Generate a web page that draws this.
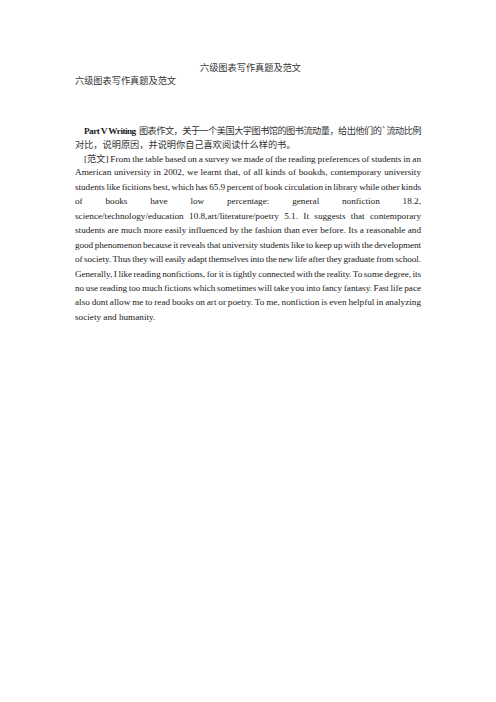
<!DOCTYPE html>
<html>
<head>
<meta charset="utf-8">
<script src="https://cdn.jsdelivr.net/npm/chart.js@4"></script>
<style>
  body { margin: 0; background: #fff; width: 496px; height: 702px; position: relative; overflow: hidden;
         font-family: "Liberation Serif", "Noto Sans CJK SC", serif; font-size: 9.2px; color: #1a1a1a; }
  .ln { position: absolute; white-space: nowrap; line-height: 12px; }
  .cjk { font-family: "Noto Sans CJK SC", sans-serif; font-size: 9.2px; color: #333; }
</style>
</head>
<body>
<div id="page"></div>
<script>
// reading preferences from the survey (percent of book circulation)
const categories = ['fictions', 'general nonfiction', 'science/technology/education', 'art/literature/poetry'];
const percents = [65.9, 18.2, 10.8, 5.1];

const pct = i => percents[i].toFixed(1);

// [text, top, left, justified, mode]
const lines = [
  ['<span class="cjk">六级图表写作真题及范文</span>', 61, 200, false],
  ['<span class="cjk">六级图表写作真题及范文</span>', 74, 75, false],
  ['<b>Part V Writing</b> <span class="cjk">&nbsp;图表作文，关于一个美国大学图书馆的图书流动量，给出他们的`流动比例</span>', 124, 84, true, 'letter'],
  ['<span class="cjk">对比，说明原因，并说明你自己喜欢阅读什么样的书。</span>', 138, 75, false],
  ['[<span class="cjk">范文</span>] From the table based on a survey we made of the reading preferences of students in an', 152, 84, true],
  ['American university in 2002, we learnt that, of all kinds of bookds, contemporary university', 166, 75, true],
  ['students like ficitions best, which has ' + pct(0) + ' percent of book circulation in library while other kinds', 181, 75, true],
  ['of books have low percentage: general nonfiction ' + pct(1) + ',', 195, 75, true],
  [categories[2] + ' ' + pct(2) + ',' + categories[3] + ' ' + pct(3) + '. It suggests that contemporary', 210, 75, true],
  ['students are much more easily influenced by the fashion than ever before. Its a reasonable and', 224, 75, true],
  ['good phenomenon because it reveals that university students like to keep up with the development', 239, 75, true],
  ['of society. Thus they will easily adapt themselves into the new life after they graduate from school.', 253, 75, true],
  ['Generally, I like reading nonfictions, for it is tightly connected with the reality. To some degree, its', 268, 75, true],
  ['no use reading too much fictions which sometimes will take you into fancy fantasy. Fast life pace', 282, 75, true],
  ['also dont allow me to read books on art or poetry. To me, nonfiction is even helpful in analyzing', 296, 75, true],
  ['society and humanity.', 311, 75, false]
];

const right = 421;
const page = document.getElementById('page');
lines.forEach(l => {
  const d = document.createElement('div');
  d.className = 'ln';
  d.style.top = l[1] + 'px';
  d.style.left = l[2] + 'px';
  d.innerHTML = l[0];
  page.appendChild(d);
  if (l[3]) {
    let target = right - l[2];
    let w = d.getBoundingClientRect().width;
    let diff = target - w;
    let spaces = (d.textContent.match(/ /g) || []).length;
    if (l[4] == 'letter') {
      d.style.letterSpacing = (diff / d.textContent.length) + 'px';
    } else if (diff / spaces < -0.6) {
      // too long even with tight spaces: squeeze letters a bit
      d.style.wordSpacing = '-0.6px';
      let w2 = d.getBoundingClientRect().width;
      d.style.letterSpacing = ((target - w2) / d.textContent.length) + 'px';
    } else {
      d.style.wordSpacing = (diff / spaces) + 'px';
    }
  }
});
</script>
</body>
</html>
